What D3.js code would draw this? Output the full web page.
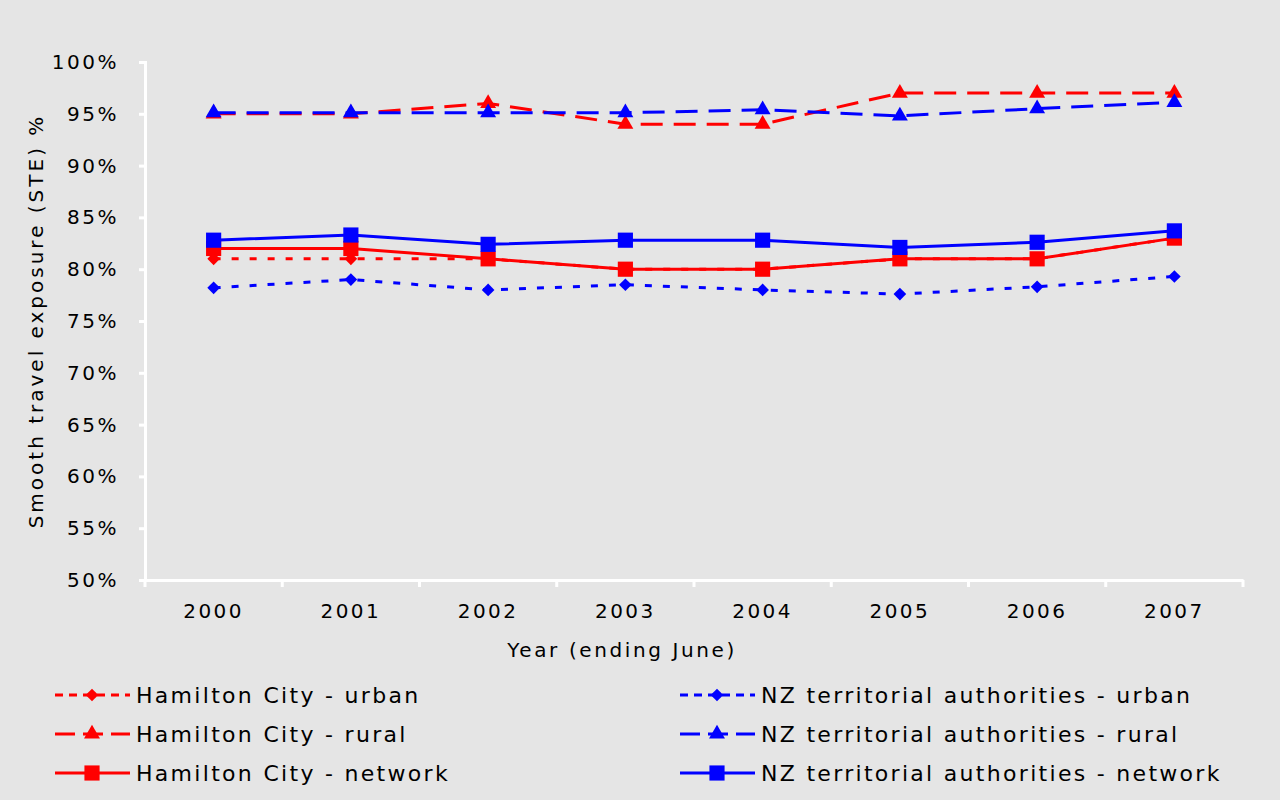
<!DOCTYPE html>
<html><head><meta charset="utf-8">
<script src="https://cdn.jsdelivr.net/npm/d3@7"></script>
<style>body{margin:0;background:#e5e5e5}svg{display:block}text{font-family:"DejaVu Sans",Verdana,sans-serif}</style>
</head><body>
<svg id="chart" width="1280" height="800"></svg>
<script>
var years = ["2000","2001","2002","2003","2004","2005","2006","2007"];
var yTicks = [50,55,60,65,70,75,80,85,90,95,100];
var hcUrban   = [81,81,81,80,80,81,81,83];
var hcRural   = [95,95,96,94,94,97,97,97];
var hcNetwork = [82,82,81,80,80,81,81,83];
var nzUrban   = [78.2,79,78,78.5,78,77.6,78.3,79.3];
var nzRural   = [95.1,95.1,95.1,95.1,95.4,94.8,95.5,96.1];
var nzNetwork = [82.8,83.3,82.4,82.8,82.8,82.1,82.6,83.7];

var series = [
    {name:"Hamilton City - urban", values:hcUrban, color:"#ff0000", dash:"7,11", sym:d3.symbolSquare, size:80, rot:45},
    {name:"Hamilton City - rural", values:hcRural, color:"#ff0000", dash:"22,11", sym:d3.symbolTriangle, size:110, rot:0},
    {name:"Hamilton City - network", values:hcNetwork, color:"#ff0000", dash:null, sym:d3.symbolSquare, size:230, rot:0},
    {name:"NZ territorial authorities - urban", values:nzUrban, color:"#0000ff", dash:"7,11", sym:d3.symbolSquare, size:80, rot:45},
    {name:"NZ territorial authorities - rural", values:nzRural, color:"#0000ff", dash:"22,11", sym:d3.symbolTriangle, size:110, rot:0},
    {name:"NZ territorial authorities - network", values:nzNetwork, color:"#0000ff", dash:null, sym:d3.symbolSquare, size:230, rot:0}
];
var drawOrder = [1,4,0,3,2,5];

var svg = d3.select("#chart");
var mLeft = 145, mRight = 1243, mTop = 62, mBottom = 580;

var x = d3.scaleBand().domain(years).range([mLeft, mRight]);
var y = d3.scaleLinear().domain([50,100]).range([mBottom, mTop]);

// axes
var yAxis = svg.append("g").attr("transform","translate(" + mLeft + ",0)")
    .call(d3.axisLeft(y).tickValues(yTicks).tickFormat(function(d){return d + "%";}).tickSize(6).tickPadding(20));
var xAxis = svg.append("g").attr("transform","translate(0," + mBottom + ")")
    .call(d3.axisBottom(x).tickSize(0).tickPadding(24));
svg.append("g").selectAll("line").data(d3.range(years.length + 1)).join("line")
    .attr("x1", function(i){return mLeft + i * x.step();}).attr("x2", function(i){return mLeft + i * x.step();})
    .attr("y1", mBottom).attr("y2", mBottom + 7).attr("stroke","#fff").attr("stroke-width",3);
[yAxis, xAxis].forEach(function(g){
    g.selectAll("path,line").attr("stroke","#fff").attr("stroke-width",3);
    g.selectAll("text").attr("fill","#000").style("font-size","20px").style("letter-spacing","2.5px")
        .style("font-family","DejaVu Sans");
});

svg.append("text").attr("x", 622).attr("y", 657).attr("text-anchor","middle")
    .style("font-size","20px").style("letter-spacing","2.6px").text("Year (ending June)");
svg.append("text").attr("transform","translate(43,321) rotate(-90)").attr("text-anchor","middle")
    .style("font-size","20px").style("letter-spacing","3px").text("Smooth travel exposure (STE) %");

var line = d3.line().x(function(d,i){return x(years[i]) + x.bandwidth()/2;}).y(function(d){return y(d);});

drawOrder.forEach(function(k){
    var s = series[k];
    var g = svg.append("g");
    g.append("path").datum(s.values).attr("d", line).attr("fill","none")
        .attr("stroke", s.color).attr("stroke-width", 3).attr("stroke-dasharray", s.dash);
    g.selectAll("path.m").data(s.values).join("path").attr("class","m")
        .attr("transform", function(d,i){return "translate(" + (x(years[i]) + x.bandwidth()/2) + "," + y(d) + ") rotate(" + s.rot + ")";})
        .attr("d", d3.symbol().type(s.sym).size(s.size)).attr("fill", s.color);
});

// legend
series.forEach(function(s, i){
    var col = Math.floor(i / 3), row = i % 3;
    var lx = col ? 680 : 55, ly = 695 + row * 39;
    var g = svg.append("g").attr("transform","translate(" + lx + "," + ly + ")");
    g.append("line").attr("x1",0).attr("x2",75).attr("stroke", s.color).attr("stroke-width",3)
        .attr("stroke-dasharray", s.dash ? (i % 3 === 0 ? "8,6" : "20,8") : null);
    g.append("path").attr("transform","translate(37,0) rotate(" + s.rot + ")").attr("d", d3.symbol().type(s.sym).size(s.size)).attr("fill", s.color);
    g.append("text").attr("x",81).attr("y",8).style("font-size","22px").style("letter-spacing","2.3px").text(s.name);
});
</script>
</body></html>
